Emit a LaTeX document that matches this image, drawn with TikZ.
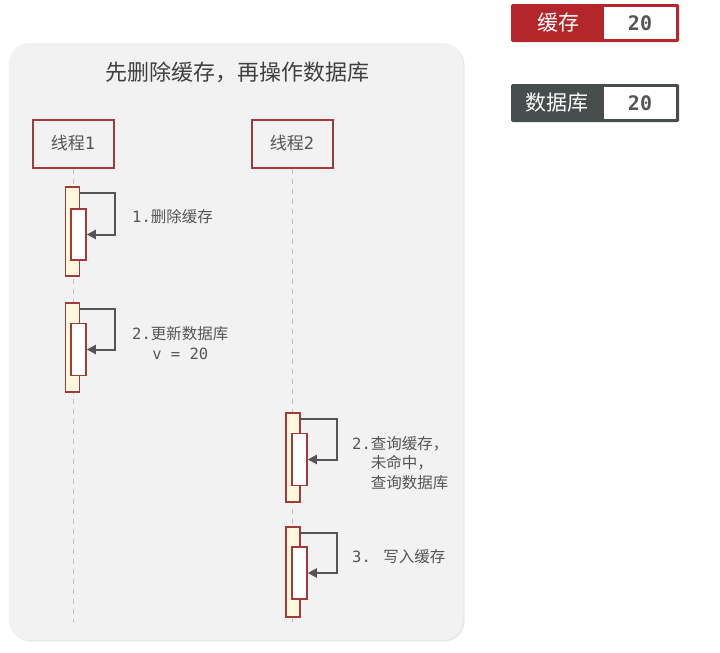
\documentclass[tikz,border=0pt]{standalone}
\usepackage{fontspec}
\setmainfont{Noto Sans CJK SC}
\newfontfamily\mono{DejaVu Sans Mono}
\usepackage{tikz}
\usetikzlibrary{arrows.meta,positioning,shadows}
\definecolor{panelgray}{HTML}{F2F2F2}
\definecolor{boxred}{HTML}{A33A3A}
\definecolor{cachered}{HTML}{B3262A}
\definecolor{dbgray}{HTML}{474C4C}
\definecolor{actfill}{HTML}{FFF8DC}
\definecolor{inkgray}{HTML}{555555}

\begin{document}
\begin{tikzpicture}[
  x=1pt, y=-1pt,
  thread/.style={rectangle, draw=boxred, line width=2pt, fill=panelgray, minimum width=81, minimum height=48, inner sep=0pt, font=\fontsize{17}{19}\selectfont, text=inkgray},
  act/.style={rectangle, draw=boxred, line width=1.5pt, fill=actfill, minimum width=14, inner sep=0pt},
  sub/.style={rectangle, draw=boxred, line width=1.5pt, fill=white, minimum width=15, inner sep=0pt},
  msg/.style={-{Triangle[length=9pt,width=9pt,fill=inkgray]}, draw=inkgray, line width=2pt},
  life/.style={draw=black!25, line width=1pt, dash pattern=on 5pt off 5pt},
  note/.style={anchor=west, inner sep=0pt, text=inkgray, font=\fontsize{15.5}{19.5}\selectfont},
  tagbox/.style={rectangle, rounded corners=1.5pt, minimum width=168, minimum height=38, inner sep=0pt},
  tagtext/.style={text=white, font=\fontsize{21}{24}\selectfont, inner sep=0pt},
  tagval/.style={rectangle, fill=white, minimum width=72, minimum height=32, inner sep=0pt, text=inkgray, font=\mono\bfseries\fontsize{20}{22}\selectfont}
]
\useasboundingbox (0,0) rectangle (720,653);

% panel
\node[rectangle, rounded corners=20pt, fill=panelgray, minimum width=454, minimum height=597,
  drop shadow={shadow xshift=1.5pt, shadow yshift=-1.5pt, opacity=0.18}] (panel) at (236,341.5) {};
\node[text=black!75, font=\fontsize{22}{24}\selectfont] (title) at (237,72) {先删除缓存，再操作数据库};

% threads
\node[thread] (t1) at (73,143.5) {线程{\mono 1}};
\node[thread] (t2) at (292,143.5) {线程{\mono 2}};
\coordinate (e1) at (73,622);
\coordinate (e2) at (292,622);
\draw[life] (t1) -- (e1);
\draw[life] (t2) -- (e2);

% thread 1
\node[act, minimum height=89] (o1) at (72.5,231.5) {};
\node[sub, minimum height=51] (i1) at (78.5,234.5) {};
\node[act, minimum height=89] (o2) at (72.5,347.5) {};
\node[sub, minimum height=52] (i2) at (78.5,349.5) {};
\draw[msg] ([yshift=-7pt]o1.north east) -- ++(35,0) |- (i1.east);
\draw[msg] ([yshift=-7pt]o2.north east) -- ++(35,0) |- (i2.east);
\node[note] (l1) at (132,216.5) {{\mono 1.}删除缓存};
\node[note, align=center] (l2) at (132,343) {{\mono 2.}更新数据库\\{\mono v = 20}};

% thread 2
\node[act, minimum height=89] (o3) at (293,457.5) {};
\node[sub, minimum height=52] (i3) at (299.5,459.5) {};
\node[act, minimum height=90] (o4) at (293,572) {};
\node[sub, minimum height=52] (i4) at (299.5,573) {};
\draw[msg] ([yshift=-7pt]o3.north east) -- ++(36,0) |- (i3.east);
\draw[msg] ([yshift=-7pt]o4.north east) -- ++(36,0) |- (i4.east);
\node[note, align=left] (l3) at (352,463)
  {{\mono 2.}查询缓存，\\\phantom{\mono 2.}未命中，\\\phantom{\mono 2.}查询数据库};
\node[note] (l4) at (352,557) {{\mono 3. }写入缓存};

% current values
\node[tagbox, fill=cachered] (cache) at (595,23) {};
\node[tagtext] (cachename) at (558,23) {缓存};
\node[tagval, anchor=east] (cacheval) at ([xshift=-3pt]cache.east) {20};
\node[tagbox, fill=dbgray] (db) at (595,103) {};
\node[tagtext] (dbname) at (557,103) {数据库};
\node[tagval, anchor=east] (dbval) at ([xshift=-3pt]db.east) {20};
\end{tikzpicture}
\end{document}
